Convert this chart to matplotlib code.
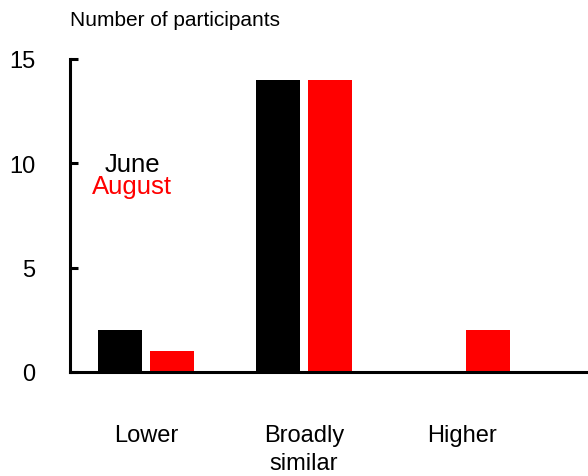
import matplotlib
matplotlib.use("Agg")
import matplotlib.pyplot as plt
import numpy as np

plt.rcParams['font.family'] = ['Liberation Sans', 'DejaVu Sans']

categories = ["Lower", "Broadly\nsimilar", "Higher"]
june = [2, 14, 0]
august = [1, 14, 2]
series_names = ["June", "August"]
colors = ["#000000", "#ff0000"]
yticks = [0, 5, 10, 15]

W, H = 588, 477
fig = plt.figure(figsize=(W/100, H/100), dpi=100)
ax = fig.add_axes([70/W, 1-373/H, 1-70/W, (373-60)/H])

x = np.arange(len(categories))
bw = 0.278
off = 0.165
ax.bar(x - off, june, bw, color=colors[0])
ax.bar(x + off, august, bw, color=colors[1])

ax.set_xlim(-0.481, 2.797)
ax.set_ylim(0, 15)
ax.set_yticks(yticks)
ax.set_xticks([])
for s in ["top", "right"]:
    ax.spines[s].set_visible(False)
for s in ["left", "bottom"]:
    ax.spines[s].set_linewidth(2.2)
ax.tick_params(axis='y', direction='in', length=6, width=2.2, labelsize=17, pad=25)

line_baselines = [442, 470]
for xi, lab in zip(x, categories):
    for j, line in enumerate(lab.split("\n")):
        ax.annotate(line, xy=(xi, 0), xycoords=('data', 'axes fraction'),
                    xytext=(0, -(line_baselines[j] - 373)), textcoords='offset pixels',
                    ha='center', va='baseline', fontsize=17, annotation_clip=False)

fig.text(132/W, 1-172/H, series_names[0], ha='center', va='baseline',
         fontsize=18.5, color=colors[0])
fig.text(132/W, 1-194/H, series_names[1], ha='center', va='baseline',
         fontsize=18.5, color=colors[1])

fig.text(70/W, 1-21/H, "Number of participants", ha='left', va='center', fontsize=15)

fig.savefig("out.png", dpi=100)
